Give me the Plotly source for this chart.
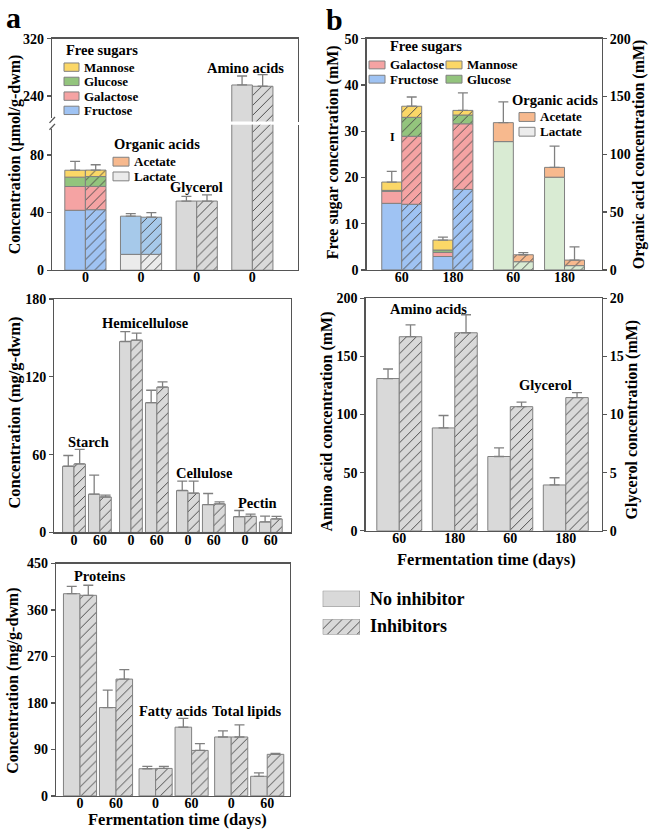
import plotly.graph_objects as go

W, H = 650, 837
FONT = "Liberation Serif"

# ---------------- data ----------------
# Panel a (top): day-0 contents, umol/g-dwm  (index 0 = No inhibitor, 1 = Inhibitors)
a_ticklabels = ["0", "0", "0", "0"]
a_fructose = [41.6, 42.0]
a_galactose = [16.5, 16.2]
a_glucose = [6.5, 6.8]
a_mannose = [4.8, 4.5]
a_sugars_err = [6.1, 3.7]
a_lactate = [11.0, 11.0]
a_acetate = [26.5, 25.8]
a_acids_err = [1.8, 3.2]
a_glycerol = [48.0, 48.0]
a_glycerol_err = [3.3, 4.3]
a_amino = [255.5, 253.7]
a_amino_err = [12.5, 16.3]

# Panel b (top): days 60 / 180, mM
b_ticklabels = ["60", "180", "60", "180"]
b_fructose_noinh = [14.4, 2.9]
b_galactose_noinh = [2.6, 0.9]
b_glucose_noinh = [0.2, 0.5]
b_mannose_noinh = [1.8, 2.15]
b_sugars_err_noinh = [2.3, 0.65]
b_fructose_inh = [14.2, 17.4]
b_galactose_inh = [14.7, 14.2]
b_glucose_inh = [4.1, 1.9]
b_mannose_inh = [2.4, 1.0]
b_sugars_err_inh = [2.0, 3.8]
b_lactate_noinh = [111.0, 80.2]
b_acetate_noinh = [16.4, 8.5]
b_acids_err_noinh = [17.9, 18.3]
b_lactate_inh = [7.1, 3.7]
b_acetate_inh = [6.0, 4.8]
b_acids_err_inh = [1.9, 11.4]

# Middle-left: polysaccharides (mg/g-dwm), days 0 / 60 for Starch, Hemicellulose, Cellulose, Pectin
poly_names = ["Starch", "Hemicellulose", "Cellulose", "Pectin"]
poly_days = ["0", "60"]
poly_noinh = [51.0, 29.5, 147.2, 100.0, 32.3, 21.5, 12.1, 8.1]
poly_noinh_err = [8.3, 14.7, 7.6, 9.6, 7.3, 8.5, 4.8, 4.5]
poly_inh = [52.8, 27.3, 148.2, 112.1, 30.3, 22.0, 12.4, 10.4]
poly_inh_err = [11.3, 1.5, 5.5, 4.0, 9.3, 1.5, 1.7, 2.0]

# Middle-right: amino acids & glycerol (mM), days 60 / 180
mr_ticklabels = ["60", "180", "60", "180"]
amino_noinh = [131.0, 88.5]
amino_noinh_err = [8.2, 10.7]
amino_inh = [167.0, 170.4]
amino_inh_err = [10.2, 15.5]
glyc_noinh = [6.39, 3.94]
glyc_noinh_err = [0.74, 0.62]
glyc_inh = [10.68, 11.46]
glyc_inh_err = [0.39, 0.43]

# Bottom-left: proteins, fatty acids, total lipids (mg/g-dwm), days 0 / 60
bl_names = ["Proteins", "Fatty acids", "Total lipids"]
bl_days = ["0", "60"]
bl_noinh = [391.6, 171.1, 52.6, 133.1, 114.1, 38.0]
bl_noinh_err = [14.0, 33.6, 4.4, 17.1, 12.0, 6.4]
bl_inh = [388.5, 226.2, 53.2, 88.1, 114.1, 80.5]
bl_inh_err = [19.5, 18.4, 3.8, 13.3, 23.4, 1.9]

# ---------------- styles ----------------
GRAY = "#d9d9d9"
EDGE = "#808080"
HATCH = "#4a4a4a"
AX = "#555555"
C_FRU = "#9fc3f3"
C_GAL = "#f5a3a3"
C_GLU = "#93c47d"
C_MAN = "#fbd767"
C_ACE = "#f7b98e"
C_LAC_B = "#d9ebd3"
C_LAC_A = "#ebebeb"
C_ACE_A = "#a6c9ea"


def px(x):
    return x / W


def py(y):
    return 1 - y / H


fig = go.Figure()


def bar(x, y, xa, ya, color, hatched, width, offset, base=None, err=None):
    marker = dict(color=color, line=dict(color=EDGE, width=1))
    if hatched:
        marker["pattern"] = dict(shape="/", fgcolor=HATCH, bgcolor=color,
                                 size=7, solidity=0.14, fillmode="replace")
    kw = {}
    if err is not None:
        kw["error_y"] = dict(type="data", symmetric=False, array=list(err),
                             arrayminus=[0] * len(err), color=EDGE,
                             thickness=1.3, width=5)
    fig.add_trace(go.Bar(x=x, y=y, base=base, width=width, offset=offset,
                         marker=marker, xaxis=xa, yaxis=ya, showlegend=False,
                         hoverinfo="skip", **kw))


def stack(x, segs, colors, xa, ya, hatched, width, offset, err):
    base = [0.0] * len(x)
    for i, (seg, col) in enumerate(zip(segs, colors)):
        last = i == len(segs) - 1
        bar(x, seg, xa, ya, col, hatched, width, offset, base=list(base),
            err=err if last else None)
        base = [b + s for b, s in zip(base, seg)]


# ---------- panel a (top) ----------
wa = 0.37
stack([0], [[a_fructose[0]], [a_galactose[0]], [a_glucose[0]], [a_mannose[0]]],
      [C_FRU, C_GAL, C_GLU, C_MAN], "x", "y", False, wa, -wa, [a_sugars_err[0]])
stack([0], [[a_fructose[1]], [a_galactose[1]], [a_glucose[1]], [a_mannose[1]]],
      [C_FRU, C_GAL, C_GLU, C_MAN], "x", "y", True, wa, 0, [a_sugars_err[1]])
stack([1], [[a_lactate[0]], [a_acetate[0]]], [C_LAC_A, C_ACE_A], "x", "y",
      False, wa, -wa, [a_acids_err[0]])
stack([1], [[a_lactate[1]], [a_acetate[1]]], [C_LAC_A, C_ACE_A], "x", "y",
      True, wa, 0, [a_acids_err[1]])
bar([2], [a_glycerol[0]], "x", "y", GRAY, False, wa, -wa, err=[a_glycerol_err[0]])
bar([2], [a_glycerol[1]], "x", "y", GRAY, True, wa, 0, err=[a_glycerol_err[1]])
bar([3], [a_amino[0]], "x", "y", GRAY, False, wa, -wa)
bar([3], [a_amino[1]], "x", "y", GRAY, True, wa, 0)
bar([3], [a_amino[0]], "x2", "y2", GRAY, False, wa, -wa, err=[a_amino_err[0]])
bar([3], [a_amino[1]], "x2", "y2", GRAY, True, wa, 0, err=[a_amino_err[1]])

# ---------- panel b (top) ----------
wb = 0.39
b_sugar_pos = [0, 1]
b_acid_pos = [2.18, 3.18]
stack(b_sugar_pos, [b_fructose_noinh, b_galactose_noinh, b_glucose_noinh, b_mannose_noinh],
      [C_FRU, C_GAL, C_GLU, C_MAN], "x3", "y3", False, wb, -wb, b_sugars_err_noinh)
stack(b_sugar_pos, [b_fructose_inh, b_galactose_inh, b_glucose_inh, b_mannose_inh],
      [C_FRU, C_GAL, C_GLU, C_MAN], "x3", "y3", True, wb, 0, b_sugars_err_inh)
stack(b_acid_pos, [b_lactate_noinh, b_acetate_noinh], [C_LAC_B, C_ACE], "x3", "y4",
      False, wb, -wb, b_acids_err_noinh)
stack(b_acid_pos, [b_lactate_inh, b_acetate_inh], [C_LAC_B, C_ACE], "x3", "y4",
      True, wb, 0, b_acids_err_inh)

# ---------- middle-left ----------
wm = 0.44
poly_pos = [k * 2.2 + j for k in range(len(poly_names)) for j in range(len(poly_days))]
bar(poly_pos, poly_noinh, "x4", "y5", GRAY, False, wm, -wm, err=poly_noinh_err)
bar(poly_pos, poly_inh, "x4", "y5", GRAY, True, wm, 0, err=poly_inh_err)

# ---------- middle-right ----------
wr = 0.405
mr_amino_pos = [0, 1]
mr_glyc_pos = [2, 3]
bar(mr_amino_pos, amino_noinh, "x5", "y6", GRAY, False, wr, -wr, err=amino_noinh_err)
bar(mr_amino_pos, amino_inh, "x5", "y6", GRAY, True, wr, 0, err=amino_inh_err)
bar(mr_glyc_pos, glyc_noinh, "x5", "y7", GRAY, False, wr, -wr, err=glyc_noinh_err)
bar(mr_glyc_pos, glyc_inh, "x5", "y7", GRAY, True, wr, 0, err=glyc_inh_err)

# ---------- bottom-left ----------
wl = 0.46
bl_pos = [k * 2.1 + j for k in range(len(bl_names)) for j in range(len(bl_days))]
bar(bl_pos, bl_noinh, "x6", "y8", GRAY, False, wl, -wl, err=bl_noinh_err)
bar(bl_pos, bl_inh, "x6", "y8", GRAY, True, wl, 0, err=bl_inh_err)

# ---------- legend swatches ----------
bar([0], [1], "x7", "y9", GRAY, False, 1, -0.5)
bar([0], [1], "x8", "y10", GRAY, True, 1, -0.5)

# ---------------- axes ----------------
tickfont = dict(family=FONT, size=14, color="black", weight="bold")


def xax(x0, x1, rng, tickvals=None, ticktext=None, mirror=True, showline=True, **kw):
    d = dict(domain=[px(x0), px(x1)], range=rng, showgrid=False, zeroline=False,
             showline=showline, linecolor=AX, linewidth=1.3, mirror=mirror,
             ticks="", tickfont=tickfont, fixedrange=True, ticklabelstandoff=-6)
    if tickvals is not None:
        d.update(tickmode="array", tickvals=tickvals, ticktext=ticktext)
    else:
        d.update(showticklabels=False)
    d.update(kw)
    return d


def yax(y0, y1, rng, tickvals, side="left", mirror=True, **kw):
    d = dict(domain=[py(y1), py(y0)], range=rng, showgrid=False, zeroline=False,
             showline=True, linecolor=AX, linewidth=1.3, mirror=mirror, side=side,
             ticks="outside", ticklen=4, tickcolor=AX, tickwidth=1.3,
             tickmode="array", tickvals=tickvals, tickfont=tickfont,
             fixedrange=True)
    d.update(kw)
    return d


a_pos = [0, 1, 2, 3]
layout_axes = dict(
    xaxis=xax(52, 298, [-0.6, 3.82], a_pos, a_ticklabels, mirror=False, anchor="y"),
    yaxis=yax(120, 268, [0, 100.9], [0, 40, 80], anchor="x", mirror=True),
    xaxis2=xax(52, 298, [-0.6, 3.82], None, None, mirror=False, side="top",
               anchor="y2"),
    yaxis2=yax(32.3, 116.7, [204.4, 320], [240, 320], anchor="x2", mirror=True),
    xaxis3=xax(366.7, 601.7, [-0.684, 3.906], b_sugar_pos + b_acid_pos, b_ticklabels,
               anchor="y3"),
    yaxis3=yax(32.3, 267.7, [0, 50], [0, 10, 20, 30, 40, 50], anchor="x3", mirror=False),
    yaxis4=yax(32.3, 267.7, [0, 200], [0, 50, 100, 150, 200], side="right",
               overlaying="y3", anchor="x3", mirror=False),
    xaxis4=xax(54.3, 291, [-0.76, 8.38], poly_pos, poly_days * len(poly_names),
               anchor="y5"),
    yaxis5=yax(297.3, 535, [0, 180], [0, 60, 120, 180], anchor="x4"),
    xaxis5=xax(365.7, 601.7, [-0.605, 3.647], mr_amino_pos + mr_glyc_pos, mr_ticklabels,
               anchor="y6"),
    yaxis6=yax(296.7, 533.3, [0, 200], [0, 50, 100, 150, 200], anchor="x5", mirror=False),
    yaxis7=yax(296.7, 533.3, [0, 20], [0, 5, 10, 15, 20], side="right",
               overlaying="y6", anchor="x5", mirror=False),
    xaxis6=xax(56, 290, [-0.667, 5.833], bl_pos, bl_days * len(bl_names), anchor="y8"),
    yaxis8=yax(566.7, 803.3, [0, 450], [0, 90, 180, 270, 360, 450], anchor="x6"),
    xaxis7=dict(domain=[px(322.7), px(360)], range=[-0.5, 0.5], visible=False,
                anchor="y9", fixedrange=True),
    yaxis9=dict(domain=[py(611), py(594.3)], range=[0, 1], visible=False,
                anchor="x7", fixedrange=True),
    xaxis8=dict(domain=[px(322.7), px(360)], range=[-0.5, 0.5], visible=False,
                anchor="y10", fixedrange=True),
    yaxis10=dict(domain=[py(639), py(623.3)], range=[0, 1], visible=False,
                 anchor="x8", fixedrange=True),
)

# ---------------- annotations ----------------
ann = []


def text(t, x, y, size=14.5, xanchor="center", angle=0):
    ann.append(dict(text=t, x=px(x), y=py(y), xref="paper", yref="paper",
                    xanchor=xanchor, yanchor="middle", showarrow=False,
                    textangle=angle,
                    font=dict(family=FONT, size=size, color="black", weight="bold")))


text("a", 4, 11, size=30, xanchor="left")
text("b", 324, 13, size=30, xanchor="left")

text("Concentration (μmol/g-dwm)", 15, 150, size=16, angle=-90)
text("Free sugar concentration (mM)", 333, 148, size=16, angle=-90)
text("Organic acid concentration (mM)", 639, 150, size=16, angle=-90)
text("Concentration (mg/g-dwm)", 15, 413, size=16.5, angle=-90)
text("Amino acid concentration (mM)", 327, 422, size=16, angle=-90)
text("Glycerol concentration (mM)", 632, 420, size=16, angle=-90)
text("Concentration (mg/g-dwm)", 13, 686, size=16, angle=-90)
text("Fermentation time (days)", 486.7, 563, size=16.5)
text("Fermentation time (days)", 177, 827, size=16.5)

text("Free sugars", 64, 44, xanchor="left")
text("Organic acids", 112, 139, xanchor="left")
text("Glycerol", 196.5, 183)
text("Amino acids", 245.5, 62)
text("Free sugars", 388, 40, xanchor="left")
text("Organic acids", 510, 95, xanchor="left")
text("I", 392, 132, size=12)
text("Starch", 88.5, 443)
text("Hemicellulose", 145.5, 322)
text("Cellulose", 204.5, 475)
text("Pectin", 257.5, 505)
text("Amino acids", 428.5, 308)
text("Glycerol", 545, 385)
text("Proteins", 99.5, 579)
text("Fatty acids", 172.5, 717)
text("Total lipids", 247, 717)
text("No inhibitor", 368, 602.7, size=18, xanchor="left")
text("Inhibitors", 368, 630.7, size=18, xanchor="left")

shapes = []


def box(x0, y0, x1, y1, color, label, size=13):
    shapes.append(dict(type="rect", xref="paper", yref="paper",
                       x0=px(x0), x1=px(x1), y0=py(y1), y1=py(y0),
                       fillcolor=color, line=dict(color=EDGE, width=1)))
    text(label, x1 + 3, (y0 + y1) / 2, size=size, xanchor="left")


box(64, 57, 79, 65.5, C_MAN, "Mannose")
box(64, 71.5, 79, 80, C_GLU, "Glucose")
box(64, 86.5, 79, 95, C_GAL, "Galactose")
box(64, 101, 79, 109.5, C_FRU, "Fructose")
box(113, 153, 129, 162, C_ACE, "Acetate")
box(113, 168, 129, 177, C_LAC_A, "Lactate")

box(369, 55, 385, 63, C_GAL, "Galactose")
box(369, 69.5, 385, 77.5, C_FRU, "Fructose")
box(446, 55, 462, 63, C_MAN, "Mannose")
box(446, 69.5, 462, 77.5, C_GLU, "Glucose")
box(519, 107.5, 535, 116.5, C_ACE, "Acetate")
box(519, 122.5, 535, 131.5, "#ececec", "Lactate")

shapes.append(dict(type="rect", xref="paper", yref="paper", x0=px(49), x1=px(55),
                   y0=py(124), y1=py(113), fillcolor="white", line=dict(width=0)))
for yb in (118, 125):
    shapes.append(dict(type="line", xref="paper", yref="paper",
                       x0=px(49.5), x1=px(55), y0=py(yb), y1=py(yb - 6),
                       line=dict(color=AX, width=1.3)))

fig.update_layout(
    width=W, height=H, margin=dict(l=0, r=0, t=0, b=0),
    plot_bgcolor="white", paper_bgcolor="white",
    barmode="overlay", showlegend=False,
    font=dict(family=FONT, size=15, color="black"),
    annotations=ann, shapes=shapes, **layout_axes,
)

# remove the browser's default page margin so the 650x837 figure fills the window exactly
fig.write_html("out.html", config={"displayModeBar": False, "staticPlot": True},
               post_script="document.body.style.margin='0';document.body.style.overflow='hidden';")
